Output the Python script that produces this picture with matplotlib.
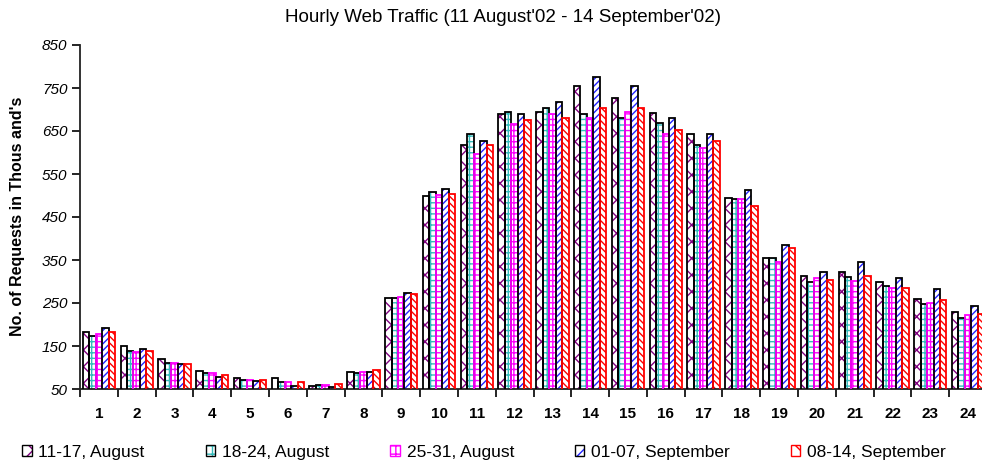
import matplotlib
matplotlib.use("Agg")
import matplotlib.pyplot as plt
import numpy as np
from matplotlib.patches import Patch
from matplotlib.legend_handler import HandlerTuple

plt.rcParams['font.family'] = ['Liberation Sans', 'DejaVu Sans']
plt.rcParams['hatch.linewidth'] = 1.0

hours = list(range(1, 25))
series_names = ["11-17, August", "18-24, August", "25-31, August",
                "01-07, September", "08-14, September"]
aug_11_17 = [183, 150, 119, 93, 76, 76, 57, 90, 261, 499, 618, 689,
             694, 755, 726, 693, 643, 495, 355, 313, 321, 298, 259, 228]
aug_18_24 = [173, 138, 110, 88, 72, 67, 60, 87, 261, 507, 643, 694,
             703, 689, 680, 669, 618, 492, 355, 300, 310, 290, 247, 216]
aug_25_31 = [178, 136, 110, 88, 72, 67, 59, 90, 265, 501, 596, 666,
             689, 680, 694, 643, 610, 492, 346, 307, 301, 284, 251, 221]
sep_01_07 = [193, 142, 108, 79, 69, 57, 55, 90, 273, 515, 627, 689,
             717, 775, 755, 681, 643, 513, 386, 321, 346, 307, 282, 244]
sep_08_14 = [183, 139, 108, 82, 72, 67, 62, 94, 270, 503, 618, 675,
             680, 703, 703, 652, 626, 476, 379, 303, 313, 284, 256, 224]
series = [aug_11_17, aug_18_24, aug_25_31, sep_01_07, sep_08_14]
y_ticks = list(range(50, 851, 100))

hatches = ['xx', '+++', '+++', '/////', '\\\\\\\\\\']
hatch_colors = ['#800080', '#33BBBB', '#FF00FF', '#2222FF', '#FF0000']
edge_colors = ['#000000', '#000000', '#FF00FF', '#000000', '#FF0000']

W, H = 982, 465
fig = plt.figure(figsize=(W / 100, H / 100), dpi=100)
left, right, bottom, top = 80, 987, 389, 45
ax = fig.add_axes([left / W, 1 - bottom / H, (right - left) / W, (bottom - top) / H])

x = np.array(hours, dtype=float)
bw = 0.171
handles = []
for i, vals in enumerate(series):
    xi = x + (i - 2) * bw
    ax.bar(xi, vals, width=bw, bottom=0, color='white', hatch=hatches[i],
           edgecolor=hatch_colors[i], linewidth=0, zorder=2)
    ax.bar(xi, vals, width=bw, bottom=0, fill=False, edgecolor=edge_colors[i],
           linewidth=1.3, zorder=3)
    h1 = Patch(facecolor='white', hatch=hatches[i][:2], edgecolor=hatch_colors[i], linewidth=0)
    h2 = Patch(fill=False, edgecolor=edge_colors[i], linewidth=1.0)
    handles.append((h1, h2))

ax.set_ylim(50, 850)
ax.set_xlim(0.5, 24.5)
ax.set_yticks(y_ticks)
ax.set_yticklabels([str(v) for v in y_ticks], fontstyle='italic', fontsize=11)
ax.set_xticks(hours)
ax.set_xticklabels([str(h) for h in hours], fontweight='bold', fontsize=11)
ax.set_xticks(np.arange(0.5, 25, 1.0), minor=True)
ax.tick_params(axis='x', which='major', length=0, pad=13)
ax.tick_params(axis='x', which='minor', length=6, width=1.2, direction='out')
ax.tick_params(axis='y', length=6, width=1.2, direction='out', pad=3)
for s in ['top', 'right']:
    ax.spines[s].set_visible(False)
for s in ['left', 'bottom']:
    ax.spines[s].set_linewidth(1.3)
    ax.spines[s].set_color('#222222')

fig.text(18 / W, 1 - 216 / H, "No. of Requests in Thous and's", rotation=90,
         fontweight='bold', fontsize=11.5, ha='center', va='center')
fig.text(503 / W, 1 - 18 / H, "Hourly Web Traffic (11 August'02 - 14 September'02)",
         fontsize=13.5, ha='center', va='center')

leg = fig.legend(handles, series_names, handler_map={tuple: HandlerTuple(ndivide=1)},
                 loc='center left', bbox_to_anchor=(22 / W, 1 - 452 / H), ncol=5,
                 frameon=False, fontsize=12.5, handlelength=0.55, handleheight=0.55,
                 handletextpad=0.4, columnspacing=3.5, borderpad=0, borderaxespad=0)

fig.savefig("out.png", dpi=100)
